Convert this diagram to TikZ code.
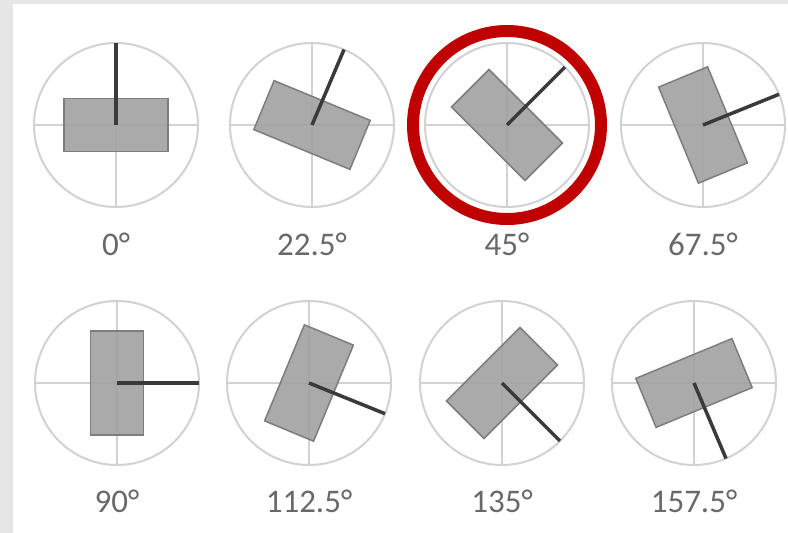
\documentclass[tikz,border=0pt]{standalone}
\usepackage{fontspec}
\setmainfont{Carlito}
\usetikzlibrary{positioning}
\definecolor{framegray}{RGB}{230,230,230}
\definecolor{dialgray}{RGB}{210,210,210}
\definecolor{platefill}{RGB}{163,163,163}
\definecolor{plateedge}{RGB}{125,125,125}
\definecolor{needlegray}{RGB}{58,58,58}
\definecolor{labelgray}{RGB}{105,105,105}
\definecolor{markred}{RGB}{192,0,0}

\begin{document}
\begin{tikzpicture}[x=1pt, y=-1pt,
  dial/.style={circle, draw=dialgray, line width=2pt, minimum size=164pt,
               inner sep=0pt, outer sep=0pt},
  plate/.style={rectangle, draw=plateedge, fill=platefill, fill opacity=0.92,
                line width=1.5pt, minimum width=104pt, minimum height=53pt,
                inner sep=0pt},
  cross/.style={draw=dialgray, line width=2pt},
  needle/.style={draw=needlegray, line width=3.5pt},
  angle/.style={font=\fontsize{33}{40}\selectfont, text=labelgray, inner sep=0pt}
]
% Frame
\fill[white] (0,0) rectangle (788,533);
\fill[framegray] (0,0) rectangle (13,533);
\fill[framegray] (0,0) rectangle (788,4);
\useasboundingbox (0,0) rectangle (788,533);

% Row 1
\node[dial] (d0) at (116,125) {};
\node[dial] (d1) at (312,125) {};
\node[dial] (d2) at (507,125) {};
\node[dial] (d3) at (703,125) {};

% Row 2
\node[dial] (d4) at (117,383) {};
\node[dial] (d5) at (309,383) {};
\node[dial] (d6) at (502,383) {};
\node[dial] (d7) at (694,383) {};

% Crosshairs
\draw[cross] (d0.north) -- (d0.south) (d0.west) -- (d0.east);
\draw[cross] (d1.north) -- (d1.south) (d1.west) -- (d1.east);
\draw[cross] (d2.north) -- (d2.south) (d2.west) -- (d2.east);
\draw[cross] (d3.north) -- (d3.south) (d3.west) -- (d3.east);
\draw[cross] (d4.north) -- (d4.south) (d4.west) -- (d4.east);
\draw[cross] (d5.north) -- (d5.south) (d5.west) -- (d5.east);
\draw[cross] (d6.north) -- (d6.south) (d6.west) -- (d6.east);
\draw[cross] (d7.north) -- (d7.south) (d7.west) -- (d7.east);

% Plates
\node[plate] (p0) at (d0) {};
\node[plate, rotate=-22.5] (p1) at (d1) {};
\node[plate, rotate=-45] (p2) at (d2) {};
\node[plate, rotate=-67.5] (p3) at (d3) {};
\node[plate, rotate=-90] (p4) at (d4) {};
\node[plate, rotate=-112.5] (p5) at (d5) {};
\node[plate, rotate=-135] (p6) at (d6) {};
\node[plate, rotate=-157.5] (p7) at (d7) {};

% Needles
\draw[needle] (d0.center) -- (d0.90);
\draw[needle] (d1.center) -- (d1.67.5);
\draw[needle] (d2.center) -- (d2.45);
\draw[needle] (d3.center) -- (d3.22.5);
\draw[needle] (d4.center) -- (d4.0);
\draw[needle] (d5.center) -- (d5.-22.5);
\draw[needle] (d6.center) -- (d6.-45);
\draw[needle] (d7.center) -- (d7.-67.5);

% Selected
\node[circle, draw=markred, line width=12pt, minimum size=188pt,
      inner sep=0pt, outer sep=0pt] (mark) at (d2) {};

% Labels
\node[angle, below=26pt of d0] (l0) {0°};
\node[angle, below=26pt of d1] (l1) {22.5°};
\node[angle, below=26pt of d2] (l2) {45°};
\node[angle, below=26pt of d3] (l3) {67.5°};
\node[angle, below=25pt of d4] (l4) {90°};
\node[angle, below=25pt of d5] (l5) {112.5°};
\node[angle, below=25pt of d6] (l6) {135°};
\node[angle, below=25pt of d7] (l7) {157.5°};
\end{tikzpicture}
\end{document}
